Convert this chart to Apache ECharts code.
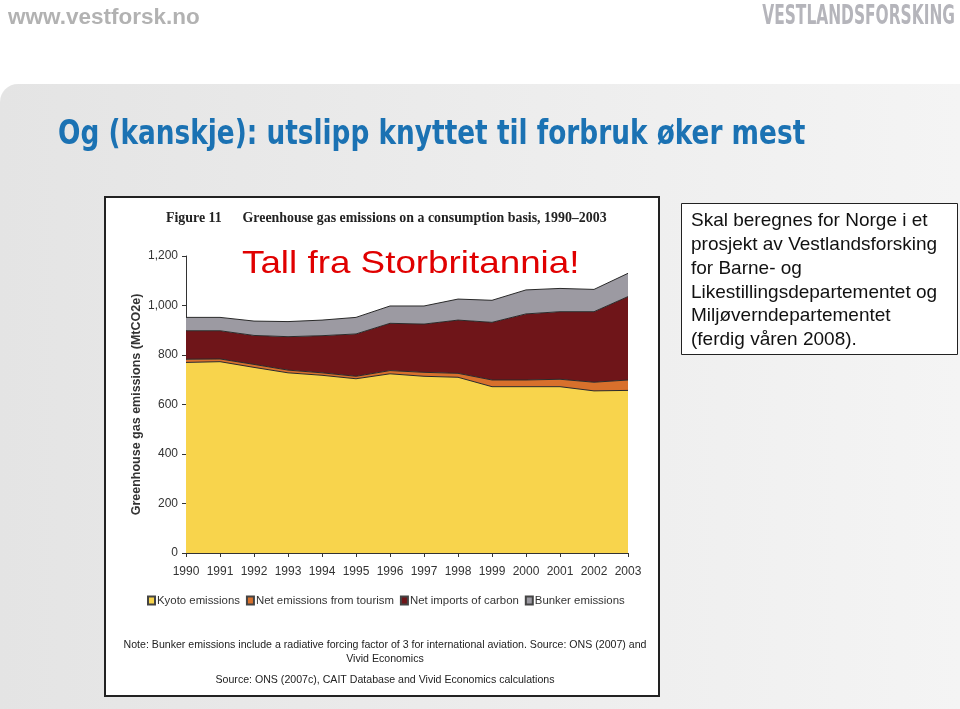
<!DOCTYPE html>
<html>
<head>
<meta charset="utf-8">
<style>
  html, body { margin: 0; padding: 0; background: #ffffff; }
  #chart { width: 960px; height: 709px; }
</style>
<script src="https://cdn.jsdelivr.net/npm/echarts@6/dist/echarts.min.js"></script>
</head>
<body>
<div id="chart"></div>
<script>
// ---- data ----
const years = ['1990','1991','1992','1993','1994','1995','1996','1997','1998','1999','2000','2001','2002','2003'];
const kyoto = [770, 773, 750, 728, 718, 704, 724, 714, 710, 672, 672, 672, 655, 657];
const tourism = [13, 11, 12, 11, 10, 10, 13, 16, 16, 27, 27, 30, 35, 42];
const netImports = [115, 114, 117, 135, 150, 171, 191, 195, 215, 233, 267, 273, 285, 337];
const bunker = [54, 54, 58, 61, 63, 67, 70, 73, 85, 89, 97, 94, 90, 94];
const seriesNames = ['Kyoto emissions', 'Net emissions from tourism', 'Net imports of carbon', 'Bunker emissions'];
const yTicks = [0, 200, 400, 600, 800, 1000, 1200];

const colors = ['#f8d44c', '#d8702c', '#6f1519', '#9c9aa2'];
const chart = echarts.init(document.getElementById('chart'), null, { renderer: 'canvas' });

function areaSeries(name, data, color) {
  return {
    name: name, type: 'line', stack: 'total', data: data,
    showSymbol: false, symbol: 'none',
    lineStyle: { color: '#2a2a2a', width: 1 },
    areaStyle: { color: color, opacity: 1 },
    itemStyle: { color: color, borderColor: '#444', borderWidth: 1 },
    emphasis: { disabled: true }
  };
}

const option = {
  animation: false,
  backgroundColor: '#ffffff',
  grid: { left: 186, right: 332, top: 256, bottom: 156, containLabel: false },
  xAxis: {
    type: 'category', data: years, boundaryGap: false,
    axisLine: { lineStyle: { color: '#333', width: 1 } },
    axisTick: { show: true, alignWithLabel: true, length: 4, lineStyle: { color: '#333' } },
    axisLabel: { color: '#333', fontFamily: 'Liberation Sans, Arial', fontSize: 12, margin: 13, interval: 0 }
  },
  yAxis: {
    type: 'value', min: yTicks[0], max: yTicks[yTicks.length - 1], interval: 200,
    name: 'Greenhouse gas emissions (MtCO2e)', nameLocation: 'middle', nameGap: 43, nameRotate: 90,
    nameTextStyle: { color: '#333', fontFamily: 'Liberation Sans, Arial', fontSize: 12.5, fontWeight: 'bold' },
    axisLine: { show: true, lineStyle: { color: '#333', width: 1 } },
    axisTick: { show: true, length: 4, inside: false, lineStyle: { color: '#333' } },
    splitLine: { show: false },
    axisLabel: {
      color: '#333', fontFamily: 'Liberation Sans, Arial', fontSize: 12, margin: 8,
      formatter: v => v.toLocaleString('en-US')
    }
  },
  legend: {
    data: seriesNames, left: 142, top: 590, itemWidth: 7, itemHeight: 8, itemGap: 6,
    icon: 'rect',
    textStyle: { color: '#333', fontFamily: 'Liberation Sans, Arial', fontSize: 11.4, padding: [0, 0, 0, -3] },
    selectedMode: false
  },
  series: [
    areaSeries(seriesNames[0], kyoto, colors[0]),
    areaSeries(seriesNames[1], tourism, colors[1]),
    areaSeries(seriesNames[2], netImports, colors[2]),
    areaSeries(seriesNames[3], bunker, colors[3])
  ],
  graphic: [
    // slide background (light grey textured panel)
    { type: 'rect', z: -30, shape: { x: 0, y: 84, width: 960, height: 625, r: [18, 0, 0, 0] },
      style: { fill: new echarts.graphic.LinearGradient(0, 0, 1, 0, [
        { offset: 0, color: '#e4e4e4' }, { offset: 0.5, color: '#ececec' }, { offset: 1, color: '#f4f4f4' }]) } },
    // header
    { type: 'text', z: 5, x: 8, y: 6,
      style: { text: 'www.vestforsk.no', fill: '#b2b2b2', font: 'bold 22.5px "Liberation Sans", Arial' } },
    { type: 'text', z: 5, x: 955, y: 4, scaleX: 0.66, originX: 0,
      style: { text: 'VESTLANDSFORSKING', fill: '#b5b5bb', textAlign: 'right',
        font: 'bold 26px "DejaVu Sans Condensed", "Liberation Sans", Arial' } },
    // slide title
    { type: 'text', z: 5, x: 58, y: 119, scaleX: 0.888,
      style: { text: 'Og (kanskje): utslipp knyttet til forbruk øker mest', fill: '#1b72b3',
        font: 'bold 33px "DejaVu Sans Condensed", "Liberation Sans", Arial' } },
    // chart white panel with border
    { type: 'rect', z: -10, shape: { x: 105, y: 197, width: 554, height: 499 },
      style: { fill: '#ffffff', stroke: '#222', lineWidth: 2 } },
    // figure title
    { type: 'text', z: 5, x: 166, y: 211,
      style: { text: 'Figure 11      Greenhouse gas emissions on a consumption basis, 1990–2003', fill: '#222',
        font: 'bold 13.9px "Liberation Serif", "DejaVu Serif", serif' } },
    // red overlay text
    { type: 'text', z: 5, x: 242, y: 248, scaleX: 1.15,
      style: { text: 'Tall fra Storbritannia!', fill: '#e00000', font: '32px "Liberation Sans", Arial' } },
    // notes
    { type: 'text', z: 5, x: 385, y: 638,
      style: { text: 'Note: Bunker emissions include a radiative forcing factor of 3 for international aviation. Source: ONS (2007) and\nVivid Economics',
        fill: '#222', font: '10.6px "Liberation Sans", Arial', textAlign: 'center', lineHeight: 14 } },
    { type: 'text', z: 5, x: 385, y: 675,
      style: { text: 'Source: ONS (2007c), CAIT Database and Vivid Economics calculations',
        fill: '#222', font: '10.6px "Liberation Sans", Arial', textAlign: 'center' } },
    // right text box
    { type: 'rect', z: -5, shape: { x: 681.5, y: 203.5, width: 276, height: 151 },
      style: { fill: '#ffffff', stroke: '#222', lineWidth: 1 } },
    { type: 'text', z: 5, x: 691, y: 209,
      style: { text: 'Skal beregnes for Norge i et\nprosjekt av Vestlandsforsking\nfor Barne- og\nLikestillingsdepartementet og\nMiljøverndepartementet\n(ferdig våren 2008).',
        fill: '#111', font: '19px "Liberation Sans", Arial', lineHeight: 23.8 } }
  ]
};
chart.setOption(option);
</script>
</body>
</html>
